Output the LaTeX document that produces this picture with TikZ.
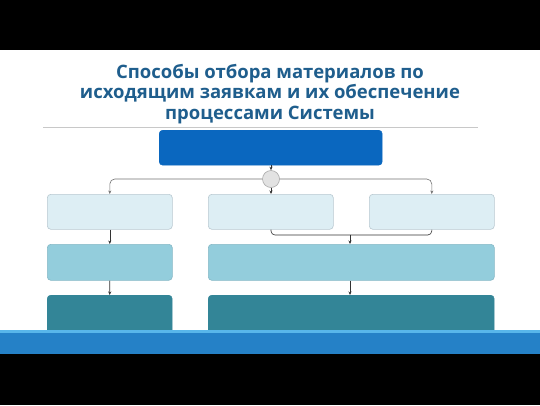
\documentclass[tikz,border=0pt]{standalone}
\usepackage{fontspec}
\setmainfont{Open Sans}
\usetikzlibrary{arrows.meta}
\definecolor{titleblue}{HTML}{1F5E8D}
\definecolor{topblue}{HTML}{0A67BF}
\definecolor{lightbox}{HTML}{DDEEF4}
\definecolor{lightborder}{HTML}{B9C9D1}
\definecolor{midbox}{HTML}{93CDDC}
\definecolor{midborder}{HTML}{86B8C6}
\definecolor{darkbox}{HTML}{338597}
\definecolor{band}{HTML}{2581C7}
\definecolor{bandedge}{HTML}{58B6EA}
\definecolor{circfill}{HTML}{E2E2E2}
\definecolor{circline}{HTML}{A8A8A8}
\definecolor{sepline}{HTML}{C8C8C8}
\tikzset{
  boxbase/.style={rectangle, rounded corners=3.5pt, inner sep=0pt, anchor=north west},
  topbox/.style={boxbase, fill=topblue, draw=topblue},
  lbox/.style={boxbase, fill=lightbox, draw=lightborder, line width=0.6pt},
  mbox/.style={boxbase, fill=midbox, draw=midborder, line width=0.6pt},
  dbox/.style={boxbase, fill=darkbox, draw=darkbox},
  branch/.style={draw=gray!90!black, line width=0.6pt, rounded corners=5pt, -{Stealth[length=3.5pt,width=3pt]}},
  link/.style={draw=black!80, line width=0.6pt, -{Stealth[length=3.5pt,width=3pt]}},
  joinline/.style={draw=black!80, line width=0.6pt, rounded corners=4pt},
}
\begin{document}
\begin{tikzpicture}[x=1pt,y=-1pt]
\useasboundingbox (0,0) rectangle (540,405);
\fill[black] (0,0) rectangle (540,50);
\fill[white] (0,50) rectangle (540,330);
\fill[black] (0,354) rectangle (540,405);
% title
\node[text=titleblue, font=\bfseries\fontsize{18.5}{20.8}\selectfont, align=center] (title) at (270,94)
  {Способы отбора материалов по\\исходящим заявкам и их обеспечение\\процессами Системы};
\draw[sepline, line width=0.8pt] (43,127) -- (478,127);
% boxes
\node[topbox, minimum width=223pt, minimum height=35pt] (top) at (159,130) {};
\node[circle, fill=circfill, draw=circline, line width=0.6pt, minimum size=17pt, inner sep=0pt] (c) at (271,179) {};
\node[lbox, minimum width=125pt, minimum height=35pt] (l1) at (47,194) {};
\node[lbox, minimum width=125pt, minimum height=35pt] (m1) at (208,194) {};
\node[lbox, minimum width=125pt, minimum height=35pt] (r1) at (369,194) {};
\node[mbox, minimum width=125pt, minimum height=36pt] (l2) at (47,244) {};
\node[mbox, minimum width=286pt, minimum height=36pt] (w2) at (208,244) {};
\node[dbox, minimum width=125pt, minimum height=38pt] (l3) at (47,295) {};
\node[dbox, minimum width=286pt, minimum height=38pt] (w3) at (208,295) {};
\coordinate (j) at (350,235);
% band
\fill[band] (0,330) rectangle (540,354);
\fill[bandedge] (0,330) rectangle (540,332.5);
% connectors
\draw[link] (top.south -| c) -- (c.north);
\draw[link] (c.south) -- (m1.north -| c);
\draw[branch] (c.west) -| (l1.north);
\draw[branch] (c.east) -| (r1.north);
\draw[link] (l1.south) -- (l2.north);
\draw[link] (l2.south) -- (l3.north);
\draw[joinline] (m1.south -| c) |- (j);
\draw[joinline] (r1.south) |- (j);
\draw[link] (j) -- (j |- w2.north);
\draw[link] (j |- w2.south) -- (j |- w3.north);
\end{tikzpicture}
\end{document}
